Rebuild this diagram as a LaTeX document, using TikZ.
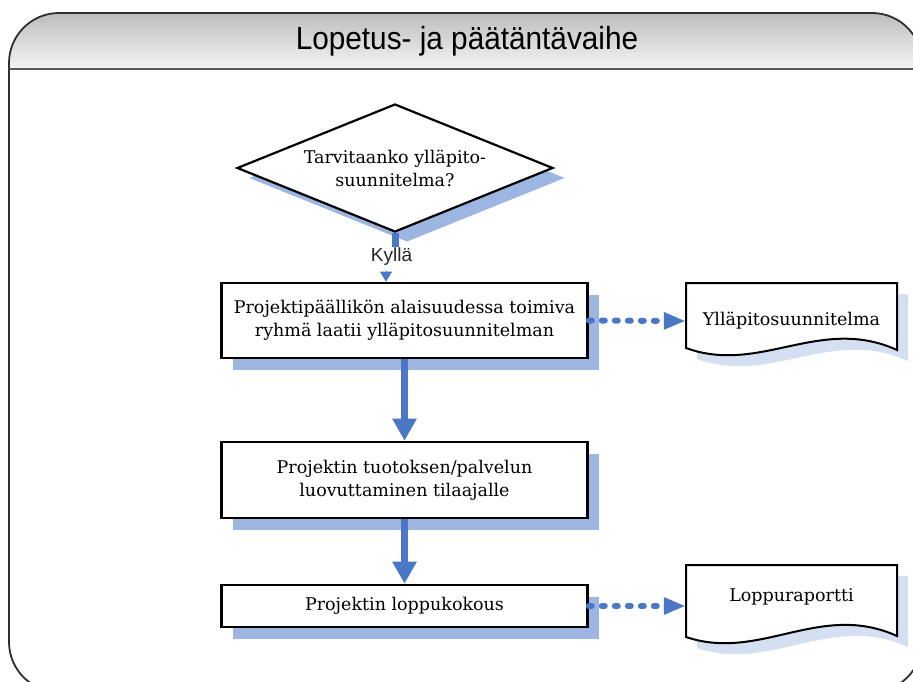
\documentclass[tikz,border=0pt]{standalone}
\usepackage{fontspec}
\usepackage{graphicx}
\setmainfont{DejaVu Serif}
\newfontfamily\headfont{Liberation Sans}
\usetikzlibrary{shapes.geometric,shadows,arrows.meta}

\definecolor{flowblue}{HTML}{4A78C6}
\definecolor{shadeblue}{HTML}{9DB6E1}
\definecolor{paleblue}{HTML}{D4DFF2}
\definecolor{framegray}{HTML}{2E2E2E}

\tikzset{
  frameline/.style={draw=framegray, line width=1.8pt},
  titletext/.style={font=\headfont\fontsize{32}{36}\selectfont, inner sep=0pt},
  yestext/.style={font=\headfont\fontsize{19}{22}\selectfont, text=black!85, inner sep=1pt},
  bodytext/.style={font=\fontsize{17.5}{23}\selectfont, align=center},
  decision/.style={bodytext, diamond, shape aspect=2.47, draw=black, line width=2.2pt, fill=white,
    minimum width=316pt, minimum height=128pt, inner sep=0pt,
    drop shadow={shadow xshift=12pt, shadow yshift=-10pt, fill=shadeblue, opacity=1}},
  process/.style={bodytext, rectangle, draw=black, line width=2.6pt, fill=white,
    minimum width=366pt,
    drop shadow={shadow xshift=11pt, shadow yshift=-12pt, fill=shadeblue, opacity=1}},
  doclabel/.style={bodytext, minimum width=211pt, inner sep=0pt},
  docline/.style={draw=black, line width=2pt, fill=white, line join=miter},
  docshadow/.style={fill=paleblue},
  flow/.style={draw=flowblue, line width=7pt, -{Triangle[length=22pt,width=23pt]}},
  stub/.style={draw=flowblue, line width=7pt},
  yestip/.style={draw=flowblue, fill=flowblue, line width=1pt, -{Triangle[length=10pt,width=12pt]}},
  docflow/.style={draw=flowblue, line width=6pt, dash pattern=on 3pt off 10pt, line cap=round,
    -{Triangle[length=22pt,width=16pt]}},
}

\begin{document}
\begin{tikzpicture}[x=1pt, y=-1pt]
  \useasboundingbox (0,0) rectangle (913,682);
  \begin{scope}
    \clip (0,0) rectangle (913,682);
    % swimlane frame with shaded header
    \begin{scope}
      \clip[rounded corners=50pt] (9,13) rectangle (922,692);
      \shade[top color=black!26, bottom color=black!4] (9,13) rectangle (922,69);
    \end{scope}
    \draw[frameline, rounded corners=50pt] (9,13) rectangle (922,692);
    \draw[frameline, draw=black!65] (9,69) -- (922,69);
  \end{scope}

  \node[titletext] (ttl) at (467,41) {\scalebox{0.93}[1]{Lopetus- ja päätäntävaihe}};

  % decision
  \node[decision] (dec) at (395,168) {Tarvitaanko ylläpito-\\suunnitelma?};
  \node[yestext] (yes) at (391.5,257) {Kyllä};

  % process steps
  \node[process, minimum height=75pt] (box1) at (404.5,320.5)
    {Projektipäällikön alaisuudessa toimiva\\ryhmä laatii ylläpitosuunnitelman};
  \node[process, minimum height=76pt] (box2) at (404.5,480)
    {Projektin tuotoksen/palvelun\\luovuttaminen tilaajalle};
  \node[process, minimum height=42pt] (box3) at (404.5,606)
    {Projektin loppukokous};

  % documents
  \begin{scope}[shift={(686,283)}]
    \fill[docshadow, shift={(11,11)}] (0,0) -- (211,0) -- (211,67)
      .. controls (134,32) and (74,92) .. (0,65) -- cycle;
    \draw[docline] (0,0) -- (211,0) -- (211,67)
      .. controls (134,32) and (74,92) .. (0,65) -- cycle;
  \end{scope}
  \node[doclabel] (doc1) at (791.5,321) {Ylläpitosuunnitelma};

  \begin{scope}[shift={(686,565)}]
    \fill[docshadow, shift={(11,11)}] (0,0) -- (211,0) -- (211,71)
      .. controls (134,36) and (74,97) .. (0,72) -- cycle;
    \draw[docline] (0,0) -- (211,0) -- (211,71)
      .. controls (134,36) and (74,97) .. (0,72) -- cycle;
  \end{scope}
  \node[doclabel] (doc2) at (791.5,597) {Loppuraportti};

  % connectors
  \draw[stub] (dec.south) -- (dec.south |- yes.north);
  \coordinate (yesend) at ([xshift=-18.5pt]box1.north);
  \draw[yestip] ([yshift=11pt]yesend) -- (yesend);
  \draw[flow] (box1.south) -- (box2.north);
  \draw[flow] (box2.south) -- (box3.north);
  \draw[docflow] (box1.east) -- (doc1.west);
  \draw[docflow] (box3.east) -- (doc2.west |- box3.east);
\end{tikzpicture}
\end{document}
